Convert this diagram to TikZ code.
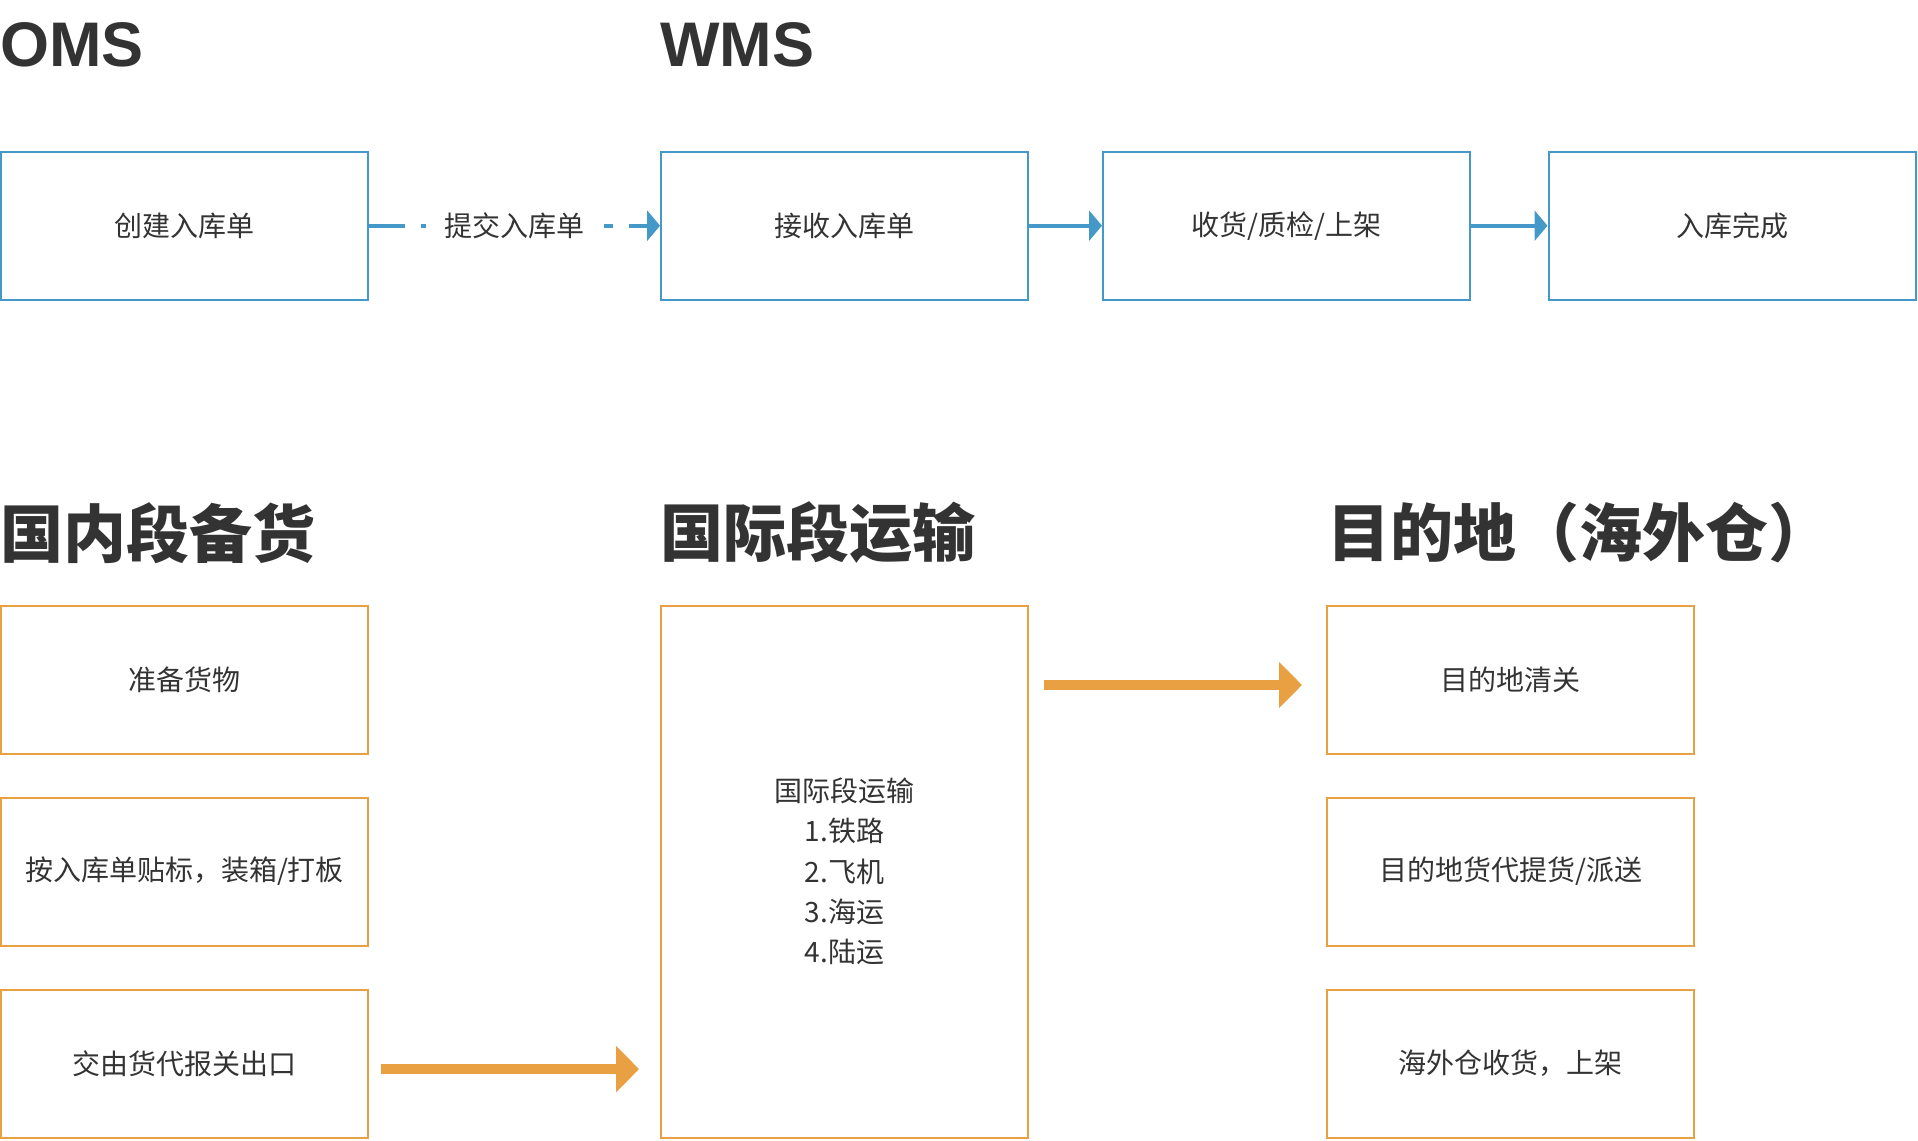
\documentclass[tikz,border=0pt]{standalone}
\usepackage{fontspec}
\setmainfont{Noto Sans CJK SC}
\newfontfamily\latinhead{Liberation Sans}
\usetikzlibrary{arrows.meta}

\definecolor{wmsblue}{HTML}{4499C9}
\definecolor{legorange}{HTML}{E9A043}
\definecolor{inktxt}{HTML}{333333}

\begin{document}
\begin{tikzpicture}[x=1pt,y=-1pt,
    box/.style={draw,line width=2pt,minimum width=367pt,minimum height=148pt,inner sep=0pt,
      text=inktxt,font=\fontsize{28}{40.4}\selectfont},
    bluebox/.style={box,draw=wmsblue},
    orangebox/.style={box,draw=legorange},
    title/.style={anchor=west,inner sep=0pt,text=inktxt,font=\fontsize{63}{70}\selectfont\bfseries},
    bluearrow/.style={draw=wmsblue,line width=4pt,-{Triangle[length=13pt,width=30pt]}},
    fatarrow/.style={draw=legorange,line width=10pt,-{Triangle[length=23pt,width=45pt]}}]
  \useasboundingbox (0,0) rectangle (1918,1140);

  % system row
  \node[title,font=\fontsize{63}{70}\latinhead\bfseries] (oms) at (0,44.5) {OMS};
  \node[title,font=\fontsize{63}{70}\latinhead\bfseries] (wms) at (660,44.5) {WMS};
  \node[bluebox] (create)  at (184.5,225.7)  {创建入库单};
  \node[bluebox] (receive) at (844.6,225.7)  {接收入库单};
  \node[bluebox] (check)   at (1286.5,225.7) {收货/质检/上架};
  \node[bluebox] (done)    at (1732,225.7)   {入库完成};
  \draw[bluearrow,dash pattern=on 36pt off 16pt] (create) --
    node[fill=white,inner xsep=19pt,inner ysep=4pt,text=inktxt,font=\fontsize{28}{32}\selectfont] {提交入库单} (receive);
  \draw[bluearrow] (receive) -- (check);
  \draw[bluearrow] (check) -- (done);

  % logistics row
  \node[title] (domestic) at (0,533)    {国内段备货};
  \node[title] (intl)     at (660,533)  {国际段运输};
  \node[title] (overseas) at (1327,533) {目的地（海外仓）};
  \foreach \n/\y/\t in {prep/679.5/准备货物, tagging/871.5/{按入库单贴标，装箱/打板}, handover/1063.6/交由货代报关出口}
    {\node[orangebox] (\n) at (184.5,\y) {\t};}
  \foreach \n/\y/\t in {clear/679.5/目的地清关, pickup/871.5/{目的地货代提货/派送}, putaway/1063.6/{海外仓收货，上架}}
    {\node[orangebox] (\n) at (1510.5,\y) {\t};}
  \node[orangebox,minimum height=532pt,align=center] (transit) at (844.6,871.5)
    {国际段运输\\1.铁路\\2.飞机\\3.海运\\4.陆运};
  % arrows sit ~5px below the box centres
  \draw[fatarrow] ([xshift=12pt,yshift=-5.5pt]handover.east) -- ([xshift=-21pt,yshift=-5.5pt]handover.east -| transit.west);
  \draw[fatarrow] ([xshift=15pt,yshift=-5.5pt]transit.east |- clear.west) -- ([xshift=-24pt,yshift=-5.5pt]clear.west);
\end{tikzpicture}
\end{document}
